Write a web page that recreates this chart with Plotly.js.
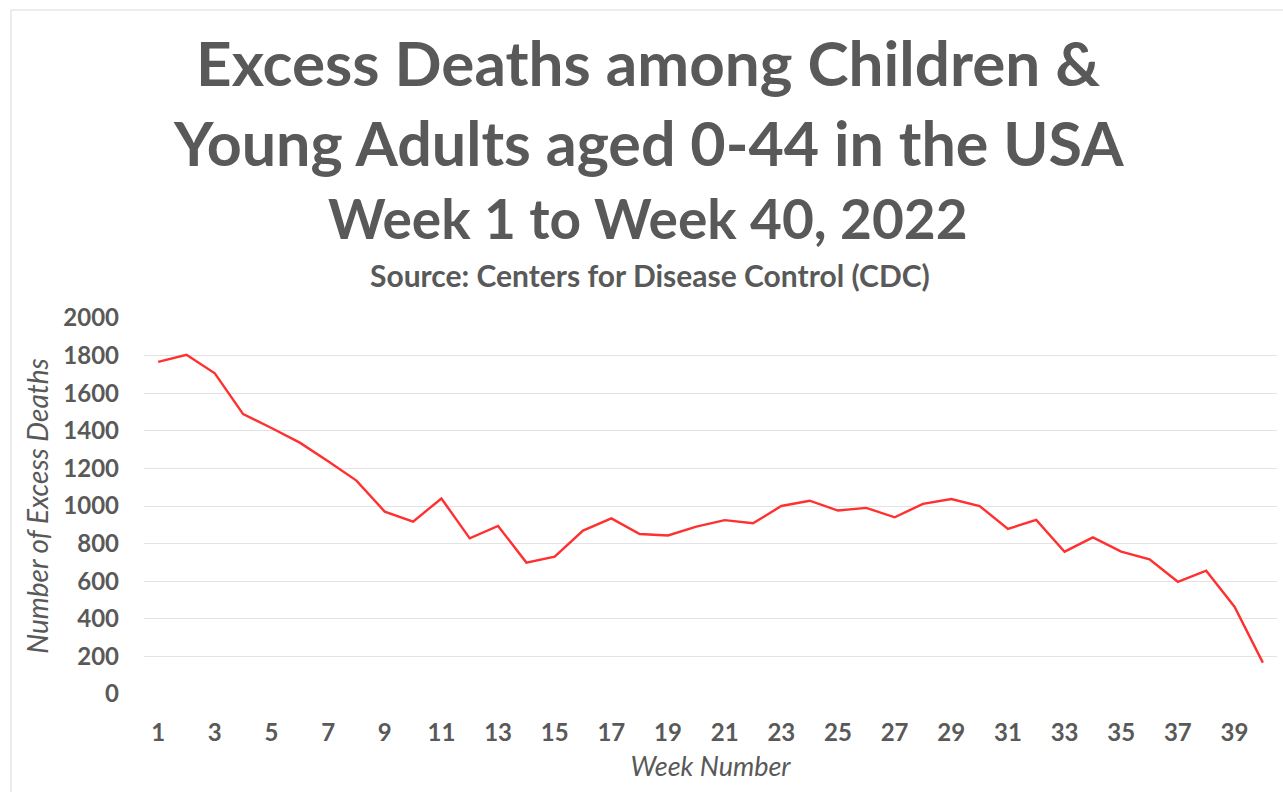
<!DOCTYPE html>
<html>
<head>
<meta charset="utf-8">
<script src="https://cdn.plot.ly/plotly-3.0.1.min.js"></script>
<style>html,body{margin:0;padding:0;background:#fff;}#chart{width:1283px;height:792px;}</style>
</head>
<body>
<div id="chart"></div>
<script>
const weeks = [1,2,3,4,5,6,7,8,9,10,11,12,13,14,15,16,17,18,19,20,21,22,23,24,25,26,27,28,29,30,31,32,33,34,35,36,37,38,39,40];
const excessDeaths = [1767,1804,1706,1489,1415,1337,1238,1135,970,917,1040,828,894,699,731,869,934,851,843,890,925,908,1000,1028,976,990,940,1011,1037,1000,878,926,757,833,757,716,597,656,464,167];
const xTickVals = [1,3,5,7,9,11,13,15,17,19,21,23,25,27,29,31,33,35,37,39];
const yTickVals = [0,200,400,600,800,1000,1200,1400,1600,1800,2000];
const titleLines = ['Excess Deaths among Children &', 'Young Adults aged 0-44 in the USA', 'Week 1 to Week 40, 2022'];
const subtitle = 'Source: Centers for Disease Control (CDC)';

const gray = '#595959';
const fontFam = 'Lato, "Open Sans", sans-serif';

const trace = {
  x: weeks, y: excessDeaths, type: 'scatter', mode: 'lines',
  line: {color: '#ff3030', width: 2.4},
  hoverinfo: 'x+y'
};

const L = 144, R = 6, T = 318, B = 98;
const pw = 1283 - L - R, ph = 792 - T - B;
const px = v => (v - L) / pw;
const py = v => (792 - B - v) / ph;

const titleY = [62, 142, 218];
const titleSize = [62, 61, 55];
const annotations = titleLines.map((t, i) => ({
  text: t, xref: 'paper', yref: 'paper', x: px(648), y: py(titleY[i]),
  xanchor: 'center', yanchor: 'middle', showarrow: false,
  font: {family: fontFam, size: titleSize[i], color: gray, weight: 700}
}));
annotations.push({
  text: subtitle, xref: 'paper', yref: 'paper', x: px(650), y: py(275),
  xanchor: 'center', yanchor: 'middle', showarrow: false,
  font: {family: fontFam, size: 30, color: gray, weight: 700}
});

const layout = {
  width: 1283, height: 792,
  margin: {l: L, r: R, t: T, b: B, pad: 0},
  paper_bgcolor: '#fff', plot_bgcolor: '#fff',
  showlegend: false,
  annotations: annotations,
  xaxis: {
    range: [0.5, 40.5], tickmode: 'array', tickvals: xTickVals,
    showgrid: false, zeroline: false, showline: false,
    ticks: '', ticklabelstandoff: 22,
    tickfont: {family: fontFam, size: 24, color: gray, weight: 700},
    title: {text: 'Week Number', standoff: 12, font: {family: fontFam, size: 27, color: gray, style: 'italic'}}
  },
  yaxis: {
    range: [0, 2000], tickmode: 'array', tickvals: yTickVals,
    showgrid: true, gridcolor: '#e3e3e3', gridwidth: 1,
    zeroline: false, showline: false,
    ticks: '', ticklabelstandoff: 24,
    tickfont: {family: fontFam, size: 24, color: gray, weight: 700},
    title: {text: 'Number of Excess Deaths', standoff: 6, font: {family: fontFam, size: 28, color: gray, style: 'italic'}}
  },
  shapes: [{
    type: 'path', xref: 'paper', yref: 'paper',
    path: `M ${px(11)} ${py(800)} L ${px(11)} ${py(10)} L ${px(1290)} ${py(10)}`,
    line: {color: '#e6e6e6', width: 1.5}
  }]
};

Plotly.newPlot('chart', [trace], layout, {displayModeBar: false, staticPlot: true});
</script>
</body>
</html>
